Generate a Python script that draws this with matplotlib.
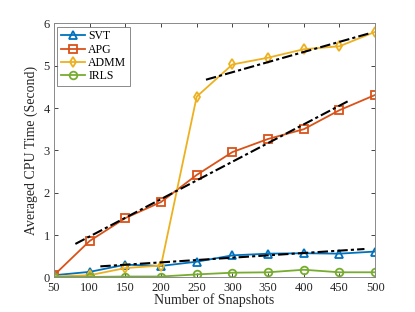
import numpy as np
import matplotlib
matplotlib.use("Agg")
import matplotlib.pyplot as plt

plt.rcParams['font.family'] = ['Liberation Serif', 'DejaVu Serif']
plt.rcParams['mathtext.fontset'] = 'stix'

snapshots = [50, 100, 150, 200, 250, 300, 350, 400, 450, 500]
svt = [0.05, 0.13, 0.30, 0.27, 0.37, 0.52, 0.56, 0.57, 0.56, 0.61]
apg = [0.05, 0.86, 1.40, 1.78, 2.42, 2.96, 3.27, 3.50, 3.95, 4.31]
admm = [0.02, 0.05, 0.22, 0.28, 4.27, 5.03, 5.19, 5.39, 5.46, 5.80]
irls = [0.01, 0.01, 0.02, 0.02, 0.07, 0.11, 0.12, 0.18, 0.12, 0.12]

# fitted trend lines (start x, end x, start y, end y)
fit_apg = ([80, 464], [0.79, 4.18])
fit_admm = ([263, 493], [4.67, 5.77])
fit_svt = ([115, 485], [0.26, 0.67])

colors = ['#0072BD', '#D95319', '#EDB120', '#77AC30']

fig = plt.figure(figsize=(4.15, 3.12), dpi=100)
ax = fig.add_axes([0.130, 0.111, 0.774, 0.814])

series = [(svt, 'SVT', '^'), (apg, 'APG', 's'), (admm, 'ADMM', 'd'), (irls, 'IRLS', 'o')]
for (vals, name, mk), c in zip(series, colors):
    ax.plot(snapshots, vals, color=c, marker=mk, markerfacecolor='none',
            markeredgecolor=c, markersize=5.5, markeredgewidth=1.3, lw=1.3, label=name)

for xs, ys in (fit_apg, fit_admm, fit_svt):
    ax.plot(xs, ys, color='black', ls=(0, (5, 1.5, 1.5, 1.5)), lw=1.5)

ax.set_xlim(50, 500)
ax.set_ylim(0, 6)
ax.set_xticks(snapshots)
ax.set_yticks(range(0, 7))
ax.set_xlabel('Number of Snapshots', fontsize=10, color='#262626', labelpad=0)
ax.set_ylabel('Averaged CPU Time (Second)', fontsize=10, color='#262626', labelpad=4)
ax.tick_params(direction='in', top=True, right=True, labelsize=9, length=3,
               colors='#262626', width=0.6, pad=3)
for s in ax.spines.values():
    s.set_color('#8a8a8a')
    s.set_linewidth(0.7)

leg = ax.legend(loc='upper left', fontsize=8.5, fancybox=False, handlelength=2.0,
                borderpad=0.3, labelspacing=0.1, handletextpad=0.3,
                borderaxespad=0.3)
leg.get_frame().set_edgecolor('#555555')
leg.get_frame().set_linewidth(0.6)

fig.savefig('out.png', dpi=100)
